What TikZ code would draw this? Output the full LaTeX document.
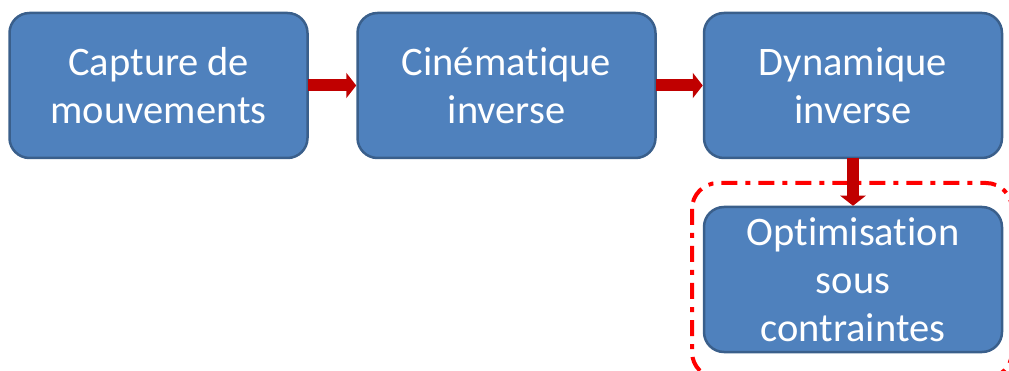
\documentclass[tikz,border=0pt]{standalone}
\usepackage{fontspec}
\setmainfont[Ligatures={NoCommon,NoRare,NoDiscretionary},Contextuals={NoAlternate}]{Carlito}
\usetikzlibrary{arrows.meta}
\definecolor{boxfill}{HTML}{4F81BD}
\definecolor{boxline}{HTML}{3A5F8B}
\definecolor{arrowred}{HTML}{C00000}
\definecolor{framered}{HTML}{FF0000}
\begin{document}
\begin{tikzpicture}[x=1pt,y=-1pt,
  stagebox/.style={draw=boxline, line width=2.5pt, fill=boxfill, rounded corners=20pt,
    minimum width=298pt, minimum height=145pt, inner sep=0pt, align=center,
    text=white, font=\fontsize{40.5}{48}\selectfont},
  flowarrow/.style={draw=arrowred, line width=12pt, -{Triangle[length=10pt,width=25pt]}, shorten <=-1pt},
  frame/.style={draw=framered, line width=4pt, rounded corners=26pt,
    dash pattern=on 16pt off 8pt on 5pt off 8pt}]
\useasboundingbox (0,0) rectangle (1009,371);
\begin{scope}
\clip (0,0) rectangle (1009,371);
\draw[frame] (692,183) rectangle (1012,378);
\end{scope}
\node[stagebox] (cap) at (158.5,85.5) {Capture\kern-1pt\ de\\mouvements};
\node[stagebox] (cin) at (506.5,85.5) {Cinématique\\inverse};
\node[stagebox] (dyn) at (853,85.5) {Dynamique\\inverse};
\node[stagebox] (opt) at (853,279.5) {Optimisation\\sous\\contraintes};
\draw[flowarrow] (cap.east) -- (cin.west);
\draw[flowarrow] (cin.east) -- (dyn.west);
\draw[flowarrow] (dyn.south) -- (opt.north);
\end{tikzpicture}
\end{document}
